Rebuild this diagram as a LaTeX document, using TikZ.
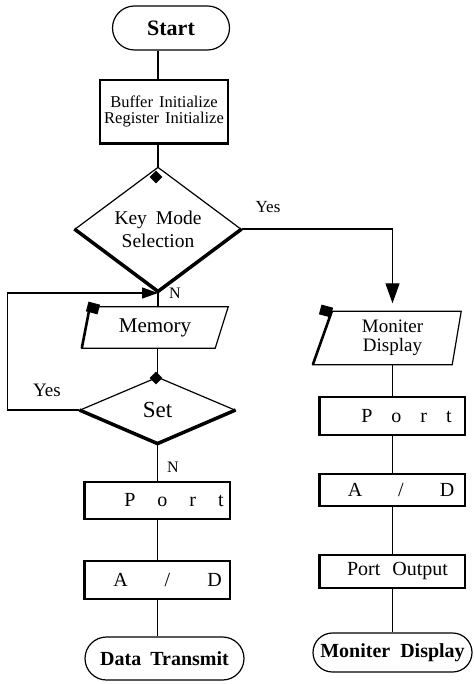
\documentclass[tikz,border=0pt]{standalone}
\usepackage{fontspec}
\setmainfont{Liberation Serif}
\usetikzlibrary{shapes.geometric,shapes.misc,arrows.meta,calc}
\begin{document}
\begin{tikzpicture}[x=1pt,y=-1pt,
  ol/.style={line width=1.2pt},
  conn/.style={line width=1.8pt},
  thickedge/.style={line width=2.6pt},
  boxn/.style={draw, ol, rectangle, inner sep=0pt, font=\fontsize{20}{22}\selectfont},
  term/.style={draw, ol, rounded rectangle, inner sep=0pt, font=\bfseries\fontsize{20}{22}\selectfont},
  dia/.style={draw, ol, diamond, inner sep=0pt, align=center},
  ghost/.style={inner sep=0pt, align=center},
  blk/.style={fill=black, inner sep=0pt, minimum size=10pt},
  lbl/.style={inner sep=0pt}
]
\useasboundingbox (0,0) rectangle (473,684);

% left column
\node[term, minimum width=117pt, minimum height=44pt, font=\bfseries\fontsize{22}{24}\selectfont] (start) at (171,28) {Start};
\node[draw, ol, minimum width=128pt, minimum height=63pt, inner sep=0pt, align=center, font=\fontsize{16.5}{15.5}\selectfont] (init) at (164,111.5) {\spaceskip=6pt\relax Buffer Initialize\\\spaceskip=6pt\relax Register Initialize};
\draw[thickedge] (init.south west) -- (init.south east);

\node[dia, minimum width=166pt, minimum height=102pt, font=\fontsize{19.5}{23}\selectfont] (key) at (158,229) {\spaceskip=9pt\relax Key Mode\\Selection};
\draw[line width=3.5pt] (key.west) -- (key.south) -- (key.east);

\node[ghost, minimum width=140pt, minimum height=41pt, font=\fontsize{21}{23}\selectfont] (mem) at (155,327.5) {Memory};
\draw[ol] ($(mem.north west)+(5,0)$) -- ($(mem.north east)+(3,0)$) -- ($(mem.south east)+(-10,0)$) -- ($(mem.south west)+(-3,0)$) -- cycle;
\draw[thickedge] ($(mem.north west)+(5,0)$) -- ($(mem.south west)+(-3,0)$);

\node[dia, minimum width=155pt, minimum height=66pt, font=\fontsize{23}{25}\selectfont] (set) at (157.5,410) {Set};
\draw[line width=3.5pt] (set.west) -- (set.south) -- (set.east);

\node[boxn, minimum width=145pt, minimum height=37pt] (portL) at (157.5,500.5) {\hspace*{33pt}{\spaceskip=22pt\relax P o r t}};
\node[boxn, minimum width=145pt, minimum height=38pt] (adL) at (157.5,580) {\hspace*{20pt}{\spaceskip=37pt\relax A / D}};
\node[term, minimum width=159pt, minimum height=43pt] (dataT) at (164.5,658.5) {\spaceskip=9pt\relax Data Transmit};
\draw[thickedge] (portL.north west) -- (portL.south west);
\draw[thickedge] (adL.north west) -- (adL.south west);

% right column
\node[ghost, minimum width=140pt, minimum height=53pt, font=\fontsize{19}{18.5}\selectfont] (mon) at (392.5,338) {Moniter\\Display};
\draw[ol] ($(mon.north west)+(9.5,0)$) -- ($(mon.north east)+(-1.5,0)$) -- ($(mon.south east)+(-10.5,0)$) -- ($(mon.south west)+(-9.5,0)$) -- cycle;
\draw[thickedge] ($(mon.north west)+(9.5,0)$) -- ($(mon.south west)+(-9.5,0)$);

\node[boxn, minimum width=145pt, minimum height=38pt] (portR) at (392.5,416) {\hspace*{28pt}{\spaceskip=19pt\relax P o r t}};
\node[boxn, minimum width=145pt, minimum height=32pt] (adR) at (392.5,490) {\hspace*{17pt}{\spaceskip=36pt\relax A / D}};
\node[boxn, minimum width=145pt, minimum height=33pt, font=\fontsize{20}{22}\selectfont] (pout) at (392.5,571.5) {\hspace*{10pt}{\spaceskip=12pt\relax Port Output}};
\node[term, minimum width=159pt, minimum height=39pt] (monD) at (392.5,652.5) {\spaceskip=10pt\relax Moniter Display};
\draw[thickedge] (portR.north west) -- (portR.south west);
\draw[thickedge] (adR.north west) -- (adR.south west);
\draw[thickedge] (pout.north west) -- (pout.south west);

% connectors
\draw[conn] (start.south -| key.north) -- (init.north -| key.north);
\draw[conn] (init.south -| key.north) -- (key.north);
\draw[ol, -{Triangle[length=20pt,width=14pt]}] (key.east) -| ([yshift=8pt]mon.north);
\draw[conn] (key.south) -- (key.south |- mem.north);
\coordinate (lp) at (158,293);
\draw[ol, -{Triangle[length=16pt,width=11pt]}] (set.west) -- ++(-72,0) |- (lp);
\draw[conn] (mem.south -| set.north) -- (set.north);
\draw[conn] (set.south) -- (set.south |- portL.north);
\draw[conn] (portL.south -| set.south) -- (adL.north -| set.south);
\draw[conn] (adL.south -| set.south) -- (dataT.north -| set.south);
\draw[conn] (mon.south) -- (portR.north);
\draw[conn] (portR.south) -- (adR.north);
\draw[conn] (adR.south) -- (pout.north);
\draw[conn] (pout.south) -- (monD.north);

% markers
\node[blk, diamond, minimum size=13pt] (mk1) at (156,177) {};
\node[blk, diamond, minimum size=13pt] (mk2) at (156,378) {};
\node[blk, rotate=-15, minimum width=12pt, minimum height=10pt] (mk3) at (93,308) {};
\node[blk, rotate=-15, minimum width=12pt, minimum height=10pt] (mk4) at (326,311) {};

% labels
\node[lbl, font=\fontsize{17}{19}\selectfont] (yes1) at (268,207) {Yes};
\node[lbl, font=\fontsize{19}{21}\selectfont] (yes2) at (47,390) {Yes};
\node[lbl, font=\fontsize{16}{18}\selectfont] (n1) at (175,293) {N};
\node[lbl, font=\fontsize{16}{18}\selectfont] (n2) at (173,467) {N};
\end{tikzpicture}
\end{document}
